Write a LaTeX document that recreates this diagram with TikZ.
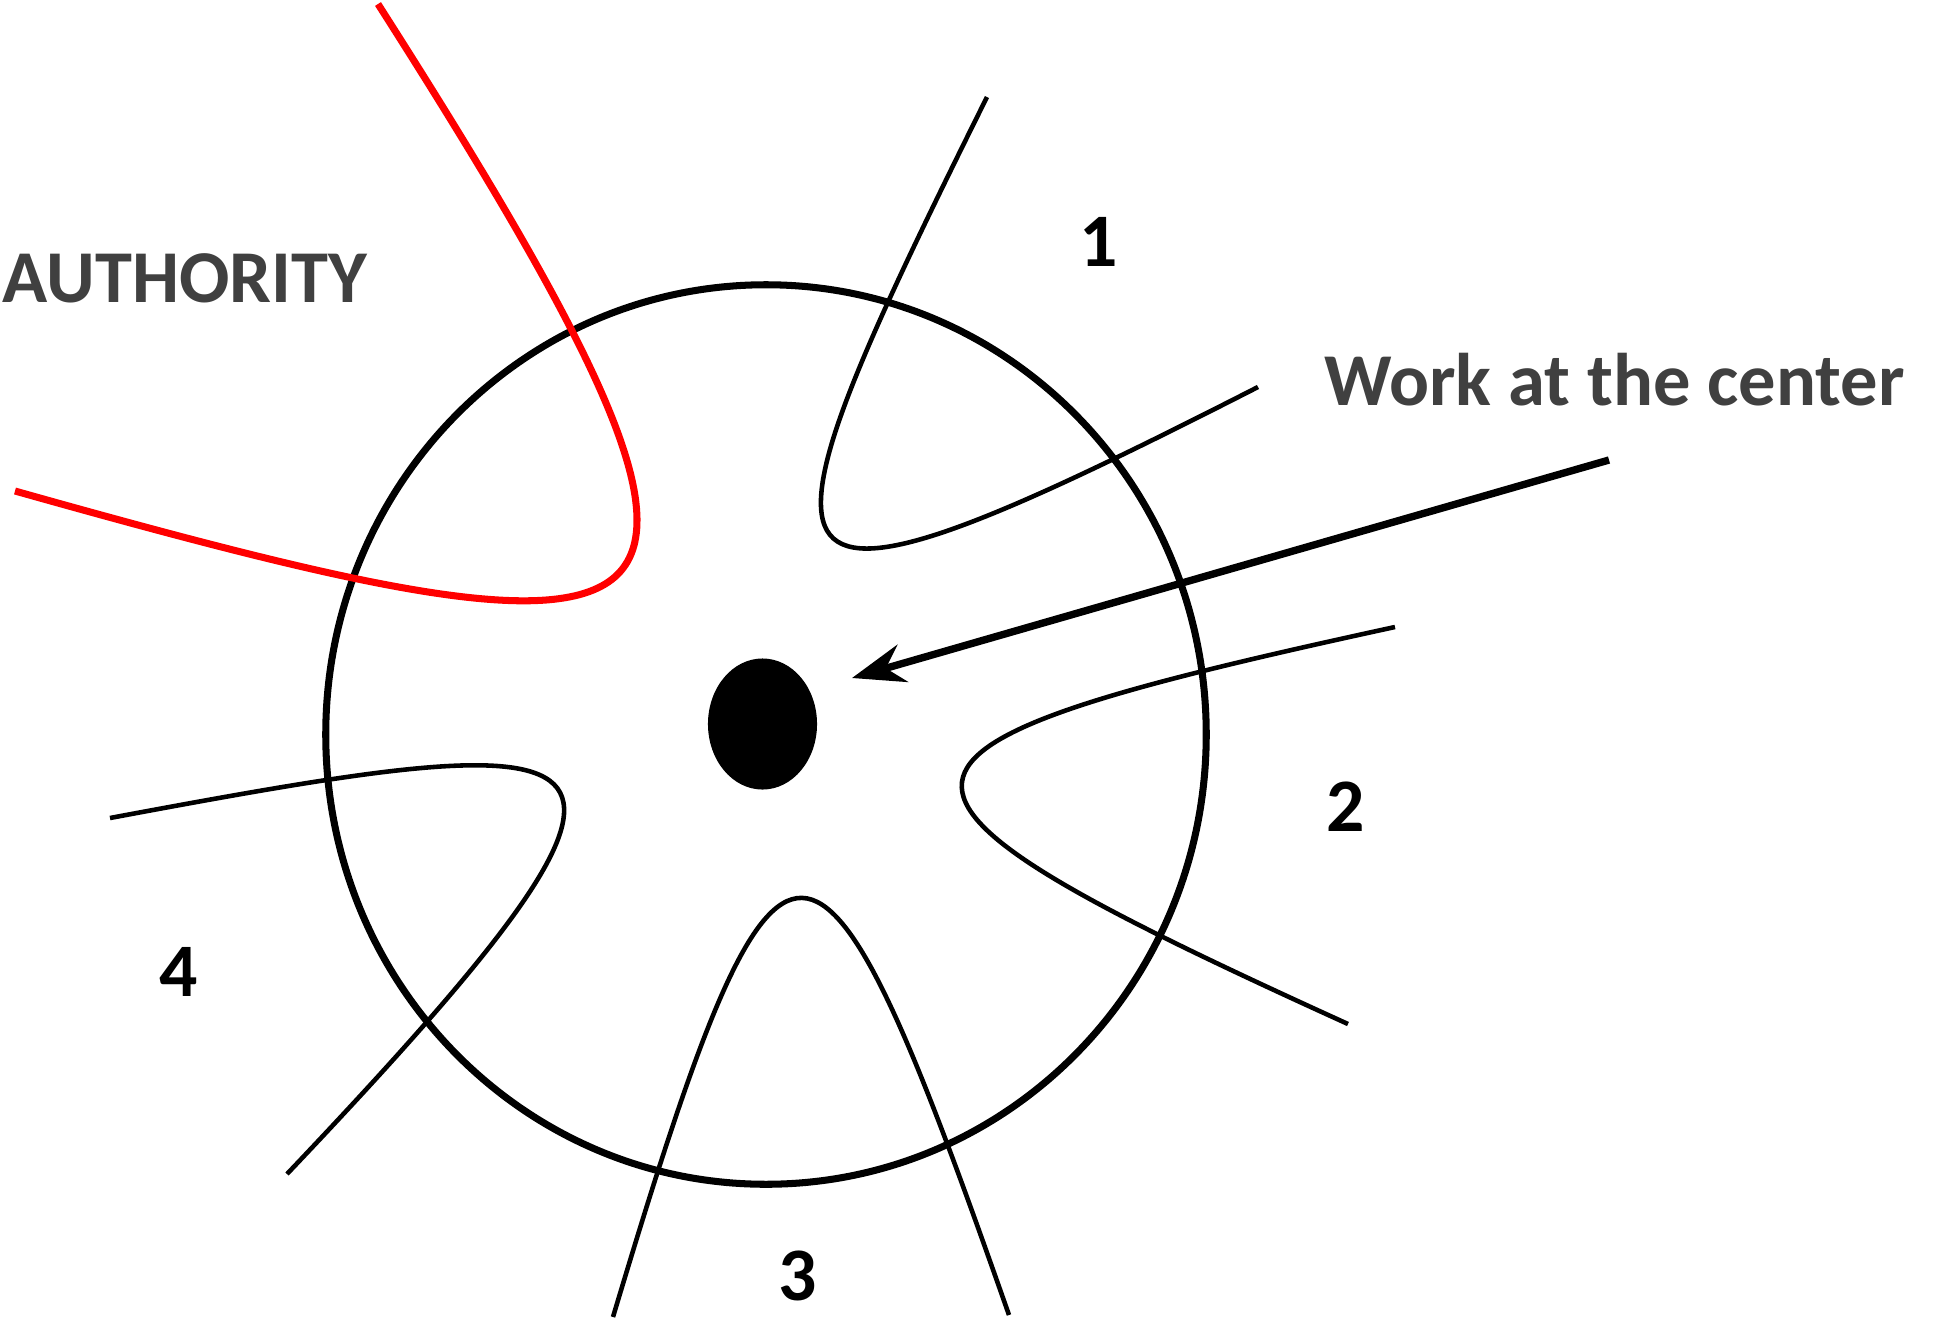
\documentclass[tikz,border=0pt]{standalone}
\usepackage{fontspec}
\setmainfont{Carlito}
\usetikzlibrary{arrows.meta,shapes.geometric}
\definecolor{txtgray}{HTML}{404040}
\definecolor{authred}{HTML}{FF0000}
\begin{document}
\begin{tikzpicture}[x=0.01cm, y=-0.01cm,
  ringstyle/.style={ellipse, draw=black, line width=2pt, inner sep=0pt, minimum width=8.8cm, minimum height=8.99cm},
  hubstyle/.style={ellipse, fill=black, inner sep=0pt, minimum width=1.09cm, minimum height=1.31cm},
  strand/.style={line width=1.3pt, draw=black},
  redstrand/.style={line width=2pt, draw=authred},
  lbl/.style={inner sep=0pt, font=\bfseries\fontsize{21.2}{25}\selectfont, text=txtgray},
  num/.style={inner sep=0pt, font=\bfseries\fontsize{21.5}{25}\selectfont, text=black}]
\useasboundingbox (0,0) rectangle (1944,1317);
% main ring and hub
\node[ringstyle] (ring) at (766,734.5) {};
\node[hubstyle] (hub) at (762.5,724) {};
% strands
\draw[strand] (987,97) .. controls (732,610) and (733,655) .. (1258,387);
\draw[strand] (1395,627) .. controls (829,750) and (822,785) .. (1348,1024);
\draw[strand] (613,1317) .. controls (782,752) and (816,765) .. (1009,1315);
\draw[strand] (110,818) .. controls (634,720) and (720,718) .. (287,1174);
\draw[redstrand] (378,4) .. controls (802,668) and (722,690) .. (15,491);
% arrow
\coordinate (wstart) at (1609,460);
\coordinate (wtip) at (852,678);
\draw[line width=2.1pt, -{Stealth[length=15pt,width=11pt,inset=5pt]}] (wstart) -- (wtip);
% labels
\node[lbl, anchor=west] (authority) at (2,278) {AUTHORITY};
\node[lbl, anchor=base west] (work) at (1324,405.5) {Work at the center};
\node[num] (n1) at (1099,242) {1};
\node[num] (n2) at (1346,807) {2};
\node[num] (n3) at (798,1276) {3};
\node[num] (n4) at (179,972) {4};
\end{tikzpicture}
\end{document}
